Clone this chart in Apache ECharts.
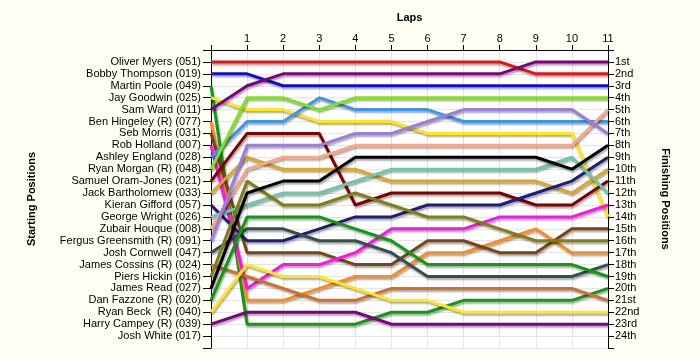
<!DOCTYPE html>
<html>
<head>
<meta charset="utf-8">
<script src="https://cdn.jsdelivr.net/npm/echarts@6/dist/echarts.min.js"></script>
<style>
html,body{margin:0;padding:0;background:#FFFEF2;}
#chart{width:700px;height:360px;}
</style>
</head>
<body>
<div id="chart"></div>
<script>
// Laps (0 = grid / starting position)
const laps = [0,1,2,3,4,5,6,7,8,9,10,11];
const lapLabels = ['', '1','2','3','4','5','6','7','8','9','10','11'];

// Starting grid order (left axis labels, positions 1..24)
const startNames = [
  'Oliver Myers (051)','Bobby Thompson (019)','Martin Poole (049)','Jay Goodwin (025)',
  'Sam Ward (011)','Ben Hingeley (R) (077)','Seb Morris (031)','Rob Holland (007)',
  'Ashley England (028)','Ryan Morgan (R) (048)','Samuel Oram-Jones (021)','Jack Bartholomew (033)',
  'Kieran Gifford (057)','George Wright (026)','Zubair Houque (008)','Fergus Greensmith (R) (091)',
  'Josh Cornwell (047)','James Cossins (R) (024)','Piers Hickin (016)','James Read (027)',
  'Dan Fazzone (R) (020)','Ryan Beck  (R) (040)','Harry Campey (R) (039)','Josh White (017)'
];

// Finishing position labels (right axis)
const finishLabels = ['1st','2nd','3rd','4th','5th','6th','7th','8th','9th','10th','11th','12th',
  '13th','14th','15th','16th','17th','18th','19th','20th','21st','22nd','23rd','24th'];

// Position of each driver at each lap (lap 0..11)
const oliverMyers      = [1,1,1,1,1,1,1,1,1,2,2,2];
const bobbyThompson    = [2,2,3,3,3,3,3,3,3,3,3,3];
const martinPoole      = [3,23,23,23,23,22,22,21,21,21,21,20];
const jayGoodwin       = [4,5,5,6,6,6,7,7,7,7,7,14];
const samWard          = [5,3,2,2,2,2,2,2,2,1,1,1];
const benHingeley      = [6,21,21,20,19,19,17,17,16,15,17,17];
const sebMorris        = [7,17,17,17,18,18,16,16,17,17,15,15];
const robHolland       = [8,20,18,18,17,15,15,15,14,14,14,13];
const ashleyEngland    = [9,6,6,4,5,5,5,6,6,6,6,6];
const ryanMorgan       = [10,4,4,5,4,4,4,4,4,4,4,4];
const samuelOramJones  = [11,7,7,7,13,12,12,12,12,13,13,11];
const jackBartholomew  = [12,9,10,10,10,11,11,11,11,11,12,10];
const kieranGifford    = [13,16,16,15,14,14,13,13,13,12,11,9];
const georgeWright     = [14,13,12,12,11,10,10,10,10,10,9,12];
const zubairHouque     = [15,10,9,9,8,8,8,8,8,8,8,5];
const fergusGreensmith = [16,8,8,8,7,7,6,5,5,5,5,7];
const joshCornwell     = [17,15,15,16,16,17,19,19,19,19,19,18];
const jamesCossins     = [18,19,20,21,21,20,20,20,20,20,20,21];
const piersHickin      = [19,11,13,13,12,13,14,14,15,16,16,16];
const jamesRead        = [20,12,11,11,9,9,9,9,9,9,10,8];
const danFazzone       = [21,14,14,14,15,16,18,18,18,18,18,19];
const ryanBeck         = [22,18,19,19,20,21,21,22,22,22,22,22];
const harryCampey      = [23,22,22,22,22,23,23,23,23,23,23,23];

const drivers = [
  [oliverMyers,'#EE1111'],[bobbyThompson,'#1010CC'],[martinPoole,'#109A10'],[jayGoodwin,'#FFE81A'],
  [samWard,'#800080'],[benHingeley,'#FF8A1E'],[sebMorris,'#7A4414'],[robHolland,'#FF10F0'],
  [ashleyEngland,'#3C96EE'],[ryanMorgan,'#7FE31A'],[samuelOramJones,'#800000'],[jackBartholomew,'#DCAA22'],
  [kieranGifford,'#1E1E7A'],[georgeWright,'#6CC8A8'],[zubairHouque,'#F8A686'],[fergusGreensmith,'#9A7EDC'],
  [joshCornwell,'#354F4F'],[jamesCossins,'#D2702A'],[piersHickin,'#808010'],[jamesRead,'#000000'],
  [danFazzone,'#109A10'],[ryanBeck,'#FFE81A'],[harryCampey,'#800080']
];

const font = 'Liberation Sans';
const chart = echarts.init(document.getElementById('chart'));
const series = drivers.map(([vals,color],i) => ({
  type:'line',
  name: startNames[i],
  data: laps.map((l,k)=>[l, vals[k]]),
  showSymbol:false,
  symbol:'none',
  lineStyle:{color:color,width:3,shadowColor:'rgba(0,0,0,0.35)',shadowBlur:2,shadowOffsetX:1,shadowOffsetY:2},
  itemStyle:{color:color},
  silent:true,
  animation:false
}));

const yCommon = {
  type:'value', inverse:true, min:0, max:25, interval:1,
  axisLine:{show:true,lineStyle:{color:'#000',width:1}},
  nameLocation:'middle',
  nameTextStyle:{fontFamily:font,fontSize:11,fontWeight:'bold',color:'#000'},
};

chart.setOption({
  backgroundColor:'#FFFEF2',
  animation:false,
  grid:{left:211,width:397,top:50,height:298,show:true,backgroundColor:'#FFFFFF',borderWidth:0},
  xAxis:{
    type:'value', position:'top', min:0, max:11, interval:1,
    name:'Laps', nameLocation:'middle', nameGap:27,
    nameTextStyle:{fontFamily:font,fontSize:11,fontWeight:'bold',color:'#000'},
    axisLine:{show:true,lineStyle:{color:'#000'}},
    axisTick:{show:true,length:5,lineStyle:{color:'#000'}},
    axisLabel:{fontFamily:font,fontSize:11,color:'#000',margin:6,formatter:v=>lapLabels[v]||''},
    splitLine:{show:true,lineStyle:{color:'#E4E4E4',width:1}}
  },
  yAxis:[
    Object.assign({}, yCommon, {
      position:'left', name:'Starting Positions', nameRotate:90, nameGap:174,
      axisTick:{show:true,length:8,lineStyle:{color:'#000'}},
      axisLabel:{fontFamily:font,fontSize:11,color:'#000',margin:10,
        formatter:v=>(v>=1&&v<=24)?startNames[v-1]:''},
      splitLine:{show:true,lineStyle:{color:'#E4E4E4',width:1}}
    }),
    Object.assign({}, yCommon, {
      position:'right', name:'Finishing Positions', nameRotate:-90, nameGap:52,
      axisTick:{show:true,length:6,lineStyle:{color:'#000'}},
      axisLabel:{fontFamily:font,fontSize:11,color:'#000',margin:7,
        formatter:v=>(v>=1&&v<=24)?finishLabels[v-1]:''},
      splitLine:{show:false}
    })
  ],
  series: series
});
</script>
</body>
</html>
